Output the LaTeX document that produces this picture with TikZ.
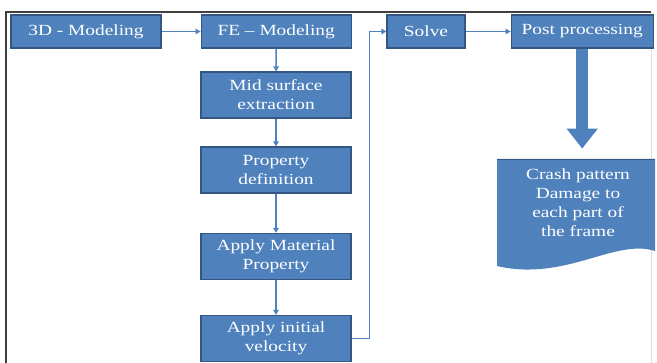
\documentclass[tikz,border=0pt]{standalone}
\usepackage{fontspec}
\setmainfont{Liberation Serif}[FakeStretch=1.25]
\usepackage{xcolor}
\definecolor{BoxBlue}{RGB}{79,129,189}
\definecolor{BoxEdge}{RGB}{52,86,130}
\usepackage{tikz}
\usetikzlibrary{arrows.meta, positioning}

\begin{document}
\begin{tikzpicture}[
        x=1pt, y=-1pt,
        stage/.style={rectangle, draw=BoxEdge, line width=1.2pt, fill=BoxBlue, text=white, align=center, font=\fontsize{15.5}{19}\selectfont, minimum width=150pt, minimum height=33pt, inner sep=1pt},
        tall/.style={minimum height=46pt},
        flow/.style={draw=BoxBlue, line width=1.6pt, -{Triangle[length=5pt, width=5.5pt]}},
        bigflow/.style={draw=BoxBlue, line width=12pt, -{Triangle[length=20pt, width=30pt]}}
    ]
        \useasboundingbox (0,0) rectangle (657,363);
        % frame
        \draw[black!75, line width=1.4pt] (6,363) -- (6,12) -- (651,12);
        \draw[black!12, line width=1pt] (651,12) -- (651,363);

        % top row
        \node[stage] (model3d) at (86,31.5) {3D - Modeling};
        \node[stage, right=39pt of model3d] (modelfe) {FE – Modeling};
        \node[stage, minimum width=78pt] (solve) at (426,31.5) {Solve};
        \node[stage, minimum width=142pt, right=45pt of solve] (post) {Post processing};

        % preprocessing column
        \node[stage, tall] (midsurf) at (276,95) {Mid surface\\extraction};
        \node[stage, tall] (propdef) at (276,170) {Property\\definition};
        \node[stage, tall] (material) at (276,256.5) {Apply Material\\Property};
        \node[stage, tall] (velocity) at (276,338.5) {Apply initial\\velocity};

        % result document
        \fill[BoxBlue] (497,159) -- (655,159) -- (655,251)
            .. controls (615,238) and (565,282) .. (497,266) -- cycle;
        \draw[BoxEdge, line width=0.8pt] (497,159) -- (655,159);
        \node[text=white, align=center, font=\fontsize{15.5}{19}\selectfont] (crash) at (578,203) {Crash pattern\\Damage to\\each part of\\the frame};

        \draw[flow] (model3d) -- (modelfe);
        \draw[flow] (modelfe) -- (midsurf);
        \draw[flow] (midsurf) -- (propdef);
        \draw[flow] (propdef) -- (material);
        \draw[flow] (material) -- (velocity);
        \draw[flow] (velocity.east) -- ++(18,0) |- (solve.west);
        \draw[flow] (solve) -- (post);
        \draw[bigflow] (post.south) -- ++(0,100);
    \end{tikzpicture}
\end{document}
